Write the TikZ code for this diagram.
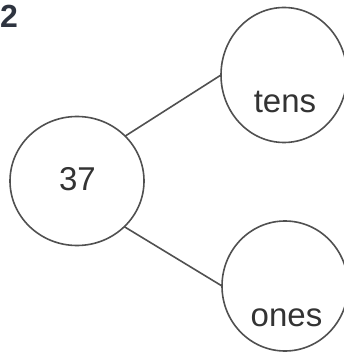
\documentclass[tikz,border=0pt]{standalone}
\usepackage{fontspec}
\setmainfont{Liberation Sans}
\usetikzlibrary{shapes.geometric}
\definecolor{linecol}{HTML}{505050}
\definecolor{txtcol}{HTML}{333333}
\definecolor{numcol}{HTML}{2E3440}
\tikzset{
  bubble/.style={ellipse, draw=linecol, line width=1.6pt, inner sep=0pt, outer sep=0pt},
  lbl/.style={font=\fontsize{33}{36}\selectfont, text=txtcol, inner sep=0pt, anchor=base},
  link/.style={draw=linecol, line width=1.6pt}
}
\begin{document}
\begin{tikzpicture}[x=1pt,y=-1pt]
\useasboundingbox (0,0) rectangle (344,352);
\node[bubble, minimum width=134pt, minimum height=129pt] (c) at (77,181) {};
\node[bubble, minimum width=126pt, minimum height=135pt] (t) at (284,75) {};
\node[bubble, minimum width=126pt, minimum height=130pt] (o) at (285,286) {};
\node[lbl] (n37) at (77.5,190) {37};
\node[lbl] (ntens) at (285,113) {tens};
\node[lbl] (nones) at (286.5,326) {ones};
\node[font=\bfseries\fontsize{32}{34}\selectfont, text=numcol, inner sep=0pt, anchor=base west] (q) at (0,28) {2};
\draw[link] (c.43) -- (t.west);
\draw[link] (c.-44) -- (o.west);
\end{tikzpicture}
\end{document}
